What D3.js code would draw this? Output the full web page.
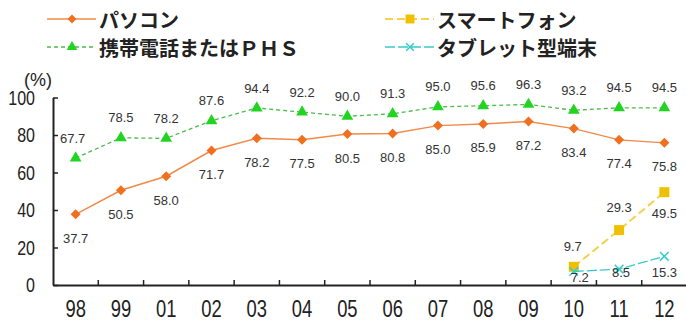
<!DOCTYPE html>
<html>
<head>
<meta charset="utf-8">
<script src="https://cdn.jsdelivr.net/npm/d3@7"></script>
<style>
  html, body { margin: 0; padding: 0; background: #fff; }
  svg { display: block; }
</style>
</head>
<body>
<svg id="chart" width="686" height="320"></svg>
<script>
// Survey years (two-digit) and ownership rates (%)
const years = ["98", "99", "01", "02", "03", "04", "05", "06", "07", "08", "09", "10", "11", "12"];
const pcValues = [37.7, 50.5, 58.0, 71.7, 78.2, 77.5, 80.5, 80.8, 85.0, 85.9, 87.2, 83.4, 77.4, 75.8];
const mobileValues = [67.7, 78.5, 78.2, 87.6, 94.4, 92.2, 90.0, 91.3, 95.0, 95.6, 96.3, 93.2, 94.5, 94.5];
const smartphoneYears = ["10", "11", "12"];
const smartphoneValues = [9.7, 29.3, 49.5];
const tabletYears = ["10", "11", "12"];
const tabletValues = [7.2, 8.5, 15.3];
const yTicks = [0, 20, 40, 60, 80, 100];

const seriesNames = ["パソコン", "携帯電話またはＰＨＳ", "スマートフォン", "タブレット型端末"];

const svg = d3.select("#chart");
const labelFont = "'Liberation Sans', Arial, sans-serif";
const jpFont = "'Noto Sans CJK JP', sans-serif";

const x = d3.scaleBand().domain(years).range([53, 687]).paddingInner(0).paddingOuter(0);
const y = d3.scaleLinear().domain([0, 100]).range([285, 97.5]);
const cx = d => x(d) + x.bandwidth() / 2;

// ---- axes ----
const yAxis = svg.append("g")
  .attr("transform", "translate(53,0)")
  .call(d3.axisLeft(y).tickValues(yTicks).tickSizeInner(-5).tickSizeOuter(0).tickPadding(0));
yAxis.select(".domain").attr("stroke", "#222").attr("stroke-width", 2);
yAxis.selectAll(".tick line").attr("stroke", "#222").attr("stroke-width", 1.5);
yAxis.selectAll(".tick text")
  .attr("x", 0).attr("dy", null)
  .attr("dominant-baseline", "central")
  .attr("transform", "translate(-18,0) scale(0.8,1)")
  .attr("fill", "#222")
  .style("font-family", labelFont)
  .style("font-size", "20px");

const xAxis = svg.append("g")
  .attr("transform", "translate(0,285)")
  .call(d3.axisBottom(x).tickSizeInner(0).tickSizeOuter(0).tickPadding(0));
xAxis.select(".domain").attr("stroke", "#222").attr("stroke-width", 2);
xAxis.selectAll(".tick line").remove();
xAxis.selectAll(".tick text")
  .attr("y", 0).attr("dy", null)
  .attr("transform", "translate(0,32) scale(0.8,1)")
  .attr("fill", "#222")
  .style("font-family", labelFont)
  .style("font-size", "23px");

// category boundary ticks pointing up from the baseline
svg.append("g").selectAll("line")
  .data(years.slice(1))
  .join("line")
  .attr("x1", d => x(d)).attr("x2", d => x(d))
  .attr("y1", y(0)).attr("y2", y(0) - 5)
  .attr("stroke", "#222").attr("stroke-width", 1.5);

svg.append("text")
  .attr("x", 38).attr("y", 80)
  .attr("text-anchor", "middle").attr("dominant-baseline", "central")
  .attr("fill", "#222")
  .style("font-family", labelFont).style("font-size", "18px")
  .text("(%)");

// ---- series ----
const series = [
  { name: seriesNames[1], cats: years, vals: mobileValues, line: "#4cbb4c", dash: "4,3", width: 1.3,
    marker: d3.symbolTriangle, size: 60, rot: 0, fill: "#22d422", stroke: "none",
    dx: years.map((d, i) => i === 0 ? -3 : 0), dy: years.map(() => -20) },
  { name: seriesNames[0], cats: years, vals: pcValues, line: "#f08a4a", dash: null, width: 1.5,
    marker: d3.symbolSquare, size: 50, rot: 45, fill: "#f07020", stroke: "none",
    dx: years.map(() => 0), dy: years.map(() => 24) },
  { name: seriesNames[2], cats: smartphoneYears, vals: smartphoneValues, line: "#f5d24a", dash: "8,4", width: 2,
    marker: d3.symbolSquare, size: 100, rot: 0, fill: "#f0c000", stroke: "none",
    dx: [-1, 0, 0], dy: [-20, -23, 21] },
  { name: seriesNames[3], cats: tabletYears, vals: tabletValues, line: "#3cc8c8", dash: "10,3", width: 1.3,
    marker: d3.symbolX, size: 50, rot: 0, fill: "none", stroke: "#33cccc",
    dx: [6, 2, 0], dy: [6, 3, 16] }
];

const lineGen = d3.line().x(d => cx(d.cat)).y(d => y(d.val));

function drawMarker(sel, s, scale) {
  sel.attr("d", d3.symbol(s.marker, s.size * scale))
    .attr("fill", s.fill)
    .attr("stroke", s.stroke)
    .attr("stroke-width", s.stroke === "none" ? null : 1.5);
}

series.forEach(s => {
  const pts = s.cats.map((c, i) => ({ cat: c, val: s.vals[i], dx: s.dx[i], dy: s.dy[i] }));
  const g = svg.append("g");
  g.append("path")
    .datum(pts)
    .attr("d", lineGen)
    .attr("fill", "none")
    .attr("stroke", s.line)
    .attr("stroke-width", s.width)
    .attr("stroke-dasharray", s.dash);
  g.selectAll("path.mk")
    .data(pts)
    .join("path")
    .attr("class", "mk")
    .attr("transform", d => `translate(${cx(d.cat)},${y(d.val)}) rotate(${s.rot})`)
    .call(drawMarker, s, 1);
  s.points = pts;
});

// value labels
series.forEach(s => {
  svg.append("g").selectAll("text")
    .data(s.points)
    .join("text")
    .attr("x", d => cx(d.cat) + d.dx)
    .attr("y", d => y(d.val) + d.dy)
    .attr("text-anchor", "middle")
    .attr("dominant-baseline", "central")
    .attr("fill", "#333")
    .style("font-family", labelFont)
    .style("font-size", "13px")
    .text(d => d.val.toFixed(1));
});

// ---- legend: two columns, two rows ----
const legendPos = [
  { name: seriesNames[0], lx: 47, ly: 19 },
  { name: seriesNames[1], lx: 47, ly: 47 },
  { name: seriesNames[2], lx: 385, ly: 19 },
  { name: seriesNames[3], lx: 385, ly: 47 }
];

const legend = svg.append("g");
legendPos.forEach(item => {
  const s = series.find(q => q.name === item.name);
  const g = legend.append("g").attr("transform", `translate(${item.lx},${item.ly})`);
  g.append("line")
    .attr("x1", 0).attr("x2", 49).attr("y1", 0).attr("y2", 0)
    .attr("stroke", s.line).attr("stroke-width", s.width)
    .attr("stroke-dasharray", s.dash);
  g.append("path")
    .attr("transform", `translate(25,0) rotate(${s.rot})`)
    .call(drawMarker, s, 0.8);
  g.append("text")
    .attr("x", 52).attr("y", 0)
    .attr("dominant-baseline", "central")
    .attr("fill", "#222")
    .style("font-family", jpFont)
    .style("font-size", "20px")
    .style("font-weight", "bold")
    .text(item.name);
});
</script>
</body>
</html>
